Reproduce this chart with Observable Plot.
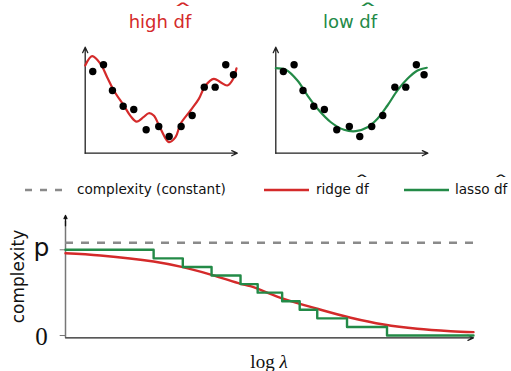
<!DOCTYPE html>
<html><head><meta charset="utf-8">
<script src="https://cdn.jsdelivr.net/npm/d3@7"></script>
<script src="https://cdn.jsdelivr.net/npm/@observablehq/plot@0.6"></script>
<style>
html,body{margin:0;padding:0;background:#fff;}
#root{position:relative;width:511px;height:371px;overflow:hidden;font-family:"DejaVu Sans",sans-serif;}
.abs{position:absolute;}
.title{font-size:18px;line-height:18px;text-align:center;width:200px;}
.hat{position:relative;display:inline-block;}
.hat .h{position:absolute;left:0;right:0;top:-0.6em;text-align:center;transform:scaleX(2.3);}
.leg{font-size:13.6px;line-height:14px;color:#111;white-space:nowrap;}
svg{overflow:visible;}
</style></head>
<body><div id="root"></div>
<script>
// top panels: sample points (shared)
const ptX = [0.50,1.21,1.80,2.51,3.21,4.03,4.86,5.55,6.34,7.07,7.87,8.59,9.29,9.80];
const ptY = [7.71,8.34,5.92,4.43,4.12,2.21,2.52,1.58,2.52,3.56,6.23,6.23,8.34,7.40];
// high df fit (red)
const highX = [0,0.46,1.01,1.45,1.89,2.55,3.0,3.4,3.85,4.2,4.53,4.98,5.53,5.97,6.3,6.96,7.51,7.95,8.5,8.94,9.39,9.72,10];
const highY = [8.27,9.15,8.43,7.17,5.92,4.5,3.5,2.98,3.4,3.77,3.56,2.3,1.04,1.51,2.77,4.03,5.13,6.39,7.02,6.7,6.39,6.86,8.0];
// low df fit (green)
const lowX = [0,0.66,1.43,2.1,2.76,3.64,4.51,5.29,6.06,6.72,7.38,8.04,8.7,9.37,9.98];
const lowY = [8.02,7.87,6.86,5.44,4.19,2.92,2.21,2.08,2.45,3.25,4.5,5.92,7.02,7.8,8.06];
// bottom: lasso df steps and ridge df curve vs log lambda
const stepX = [0,21.6,28.75,35.8,42.9,47.1,53.1,57.4,61.7,69.0,78.8,100];
const stepY = [10,9,8,7,6,5,4,3,2,1,0,0];
const ridgeX = [0,8.58,21.6,28.75,35.8,42.9,45.3,53.5,61.7,69.9,78.0,86.2,94.4,100];
const ridgeY = [9.6,9.34,8.63,7.97,7.08,6.03,5.75,4.28,3.12,2.07,1.28,0.78,0.5,0.39];
const constantY = 10.82;
const yTickVals = [0,10];
const yTickLabels = ["0","p"];

const RED = "#d42a2a", GREEN = "#238a47", GRAY = "#8a8a8a";
const root = document.getElementById("root");
const pts = ptX.map((x,i)=>({x,y:ptY[i]}));
const high = highX.map((x,i)=>({x,y:highY[i]}));
const low = lowX.map((x,i)=>({x,y:lowY[i]}));

function panel(left, fit, color, x0){
  const p = Plot.plot({
    width:175, height:120, margin:0,
    x:{domain:[0,10], range:[x0, x0+151.3]},
    y:{domain:[0,10], range:[112.7, 6.7]},
    axis:null,
    marks:[
      Plot.arrow([{x1:0,y1:0,x2:10.05,y2:0}],{x1:"x1",y1:"y1",x2:"x2",y2:"y2",stroke:"#222",strokeWidth:1.3,headLength:7,headAngle:50}),
      Plot.arrow([{x1:0,y1:0,x2:0,y2:10}],{x1:"x1",y1:"y1",x2:"x2",y2:"y2",stroke:"#222",strokeWidth:1.3,headLength:7,headAngle:50}),
      Plot.line(fit,{x:"x",y:"y",stroke:color,strokeWidth:2.2,curve:"catmull-rom"}),
      Plot.dot(pts,{x:"x",y:"y",r:3.7,fill:"#000"})
    ]
  });
  p.style.position="absolute"; p.style.left=left+"px"; p.style.top="40px";
  root.appendChild(p);
}
panel(70, high, RED, 14.7);
panel(260, low, GREEN, 15.3);

function addDiv(cls, html, css){
  const d=document.createElement("div"); d.className="abs "+cls; d.innerHTML=html;
  Object.assign(d.style, css); root.appendChild(d); return d;
}
const dfh = '<span class="hat">df<span class="h">ˆ</span></span>';
addDiv("title", "high "+dfh, {left:"60px", top:"13px", color:RED});
addDiv("title", "low "+dfh, {left:"250px", top:"13px", color:GREEN});

// legend
function swatch(left, color, dash){
  const s=document.createElementNS("http://www.w3.org/2000/svg","svg");
  s.setAttribute("width","46"); s.setAttribute("height","6");
  s.style.position="absolute"; s.style.left=left+"px"; s.style.top="187px";
  s.innerHTML=`<line x1="0" y1="3" x2="${dash?38:45}" y2="3" stroke="${color}" stroke-width="2.3" ${dash?'stroke-dasharray="7,8"':''}/>`;
  root.appendChild(s);
}
swatch(25, GRAY, true); swatch(264, RED, false); swatch(404, GREEN, false);
addDiv("leg", "complexity (constant)", {left:"77px", top:"182px"});
addDiv("leg", "ridge "+dfh, {left:"316px", top:"182px"});
addDiv("leg", "lasso "+dfh, {left:"455px", top:"182px"});

// bottom chart
const steps = stepX.map((x,i)=>({x,y:stepY[i]}));
const ridge = ridgeX.map((x,i)=>({x,y:ridgeY[i]}));
const ticks = yTickVals.map((v,i)=>({y:v,label:yTickLabels[i]}));
const b = Plot.plot({
  width:511, height:171, margin:0,
  x:{domain:[0,100], range:[65,473]},
  y:{domain:[0,10], range:[135,49.3]},
  axis:null,
  marks:[
    Plot.ruleY(ticks,{y:"y", x1:-1.3, x2:0, stroke:"#777", strokeWidth:1}),
    Plot.ruleX([0],{y1:-0.27, y2:13.3, stroke:"#777", strokeWidth:1.5}),
    Plot.arrow([{x1:0,y1:12.8,x2:0,y2:14}],{x1:"x1",y1:"y1",x2:"x2",y2:"y2",stroke:"#111",strokeWidth:1.3,headLength:7,headAngle:50}),
    Plot.arrow([{x1:0,y1:-0.27,x2:100,y2:-0.27}],{x1:"x1",y1:"y1",x2:"x2",y2:"y2",stroke:"#222",strokeWidth:1.3,headLength:7,headAngle:50}),
    Plot.ruleY([constantY],{x1:0, x2:100, stroke:GRAY, strokeWidth:2.3, strokeDasharray:"8,8"}),
    Plot.line(ridge,{x:"x",y:"y",stroke:RED,strokeWidth:2.4,curve:"catmull-rom"}),
    Plot.line(steps,{x:"x",y:"y",stroke:GREEN,strokeWidth:2.4,curve:"step-after"}),
    Plot.text(ticks.filter(d=>d.label==="p"),{y:"y",text:"label",frameAnchor:"left",dx:41,textAnchor:"middle",dy:-2,fontSize:25,fontFamily:"DejaVu Sans",fill:"#111"}),
    Plot.text(ticks.filter(d=>d.label==="0"),{y:"y",text:"label",frameAnchor:"left",dx:41,textAnchor:"middle",dy:1,fontSize:25,fontFamily:"Liberation Serif",fill:"#111"})
  ]
});
b.style.position="absolute"; b.style.left="0px"; b.style.top="200px";
root.appendChild(b);

addDiv("", "complexity", {left:"-32px", top:"268px", width:"100px", textAlign:"center", fontSize:"17px", lineHeight:"17px", transform:"rotate(-90deg)", color:"#111"});
addDiv("", "log <i>λ</i>", {left:"219px", top:"352px", width:"100px", textAlign:"center", fontSize:"19px", lineHeight:"19px", fontFamily:"Liberation Serif", color:"#111"});
</script></body></html>
